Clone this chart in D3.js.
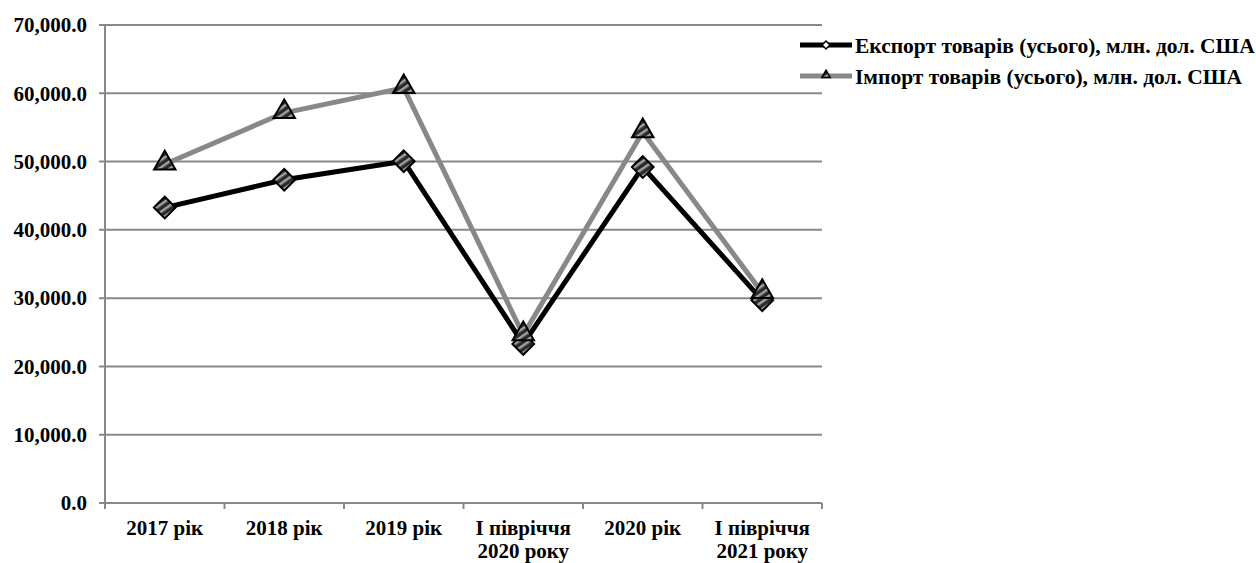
<!DOCTYPE html>
<html>
<head>
<meta charset="utf-8">
<script src="https://cdn.jsdelivr.net/npm/d3@7"></script>
<style>
body{margin:0;background:#fff}
text{font-family:"Liberation Serif","Times New Roman",serif;font-weight:bold;fill:#000}
</style>
</head>
<body>
<script>
// categories and series
var categories=["2017 рік","2018 рік","2019 рік","І півріччя|2020 року","2020 рік","І півріччя|2021 року"]
var exportVals=[43265,47335,50055,23300,49192,29700]
var importVals=[49607,57141,60800,24600,54336,30800]
var yTicks=[0,10000,20000,30000,40000,50000,60000,70000]
var seriesNames=["Експорт товарів (усього), млн. дол. США","Імпорт товарів (усього), млн. дол. США"]

var width=1256, height=563
var plotL=105, plotR=822, plotT=25, plotB=503

var svg=d3.select("body").append("svg")
  .attr("width",width).attr("height",height)

var defs=svg.append("defs")
var pat=defs.append("pattern").attr("id","hatch")
  .attr("patternUnits","userSpaceOnUse").attr("width",6).attr("height",6)
  .attr("patternTransform","rotate(-35)")
pat.append("rect").attr("width",6).attr("height",6).attr("fill","#2a2a2a")
pat.append("rect").attr("width",6).attr("height",2.5).attr("fill","#a0a0a0")

var x=d3.scaleBand().domain(categories).range([plotL,plotR])
var y=d3.scaleLinear().domain([0,70000]).range([plotB,plotT])

// gridlines
svg.append("g").selectAll("line").data(yTicks).enter().append("line")
  .attr("x1",plotL-6).attr("x2",plotR)
  .attr("y1",function(d){return y(d)}).attr("y2",function(d){return y(d)})
  .attr("stroke","#888").attr("stroke-width",2)

// y axis line
svg.append("line").attr("x1",plotL).attr("x2",plotL).attr("y1",plotT).attr("y2",plotB+6)
  .attr("stroke","#888").attr("stroke-width",2)

// x ticks
var xt=d3.range(categories.length+1).map(function(i){return plotL+i*x.bandwidth()})
svg.append("g").selectAll("line").data(xt).enter().append("line")
  .attr("x1",function(d){return d}).attr("x2",function(d){return d})
  .attr("y1",plotB).attr("y2",plotB+6)
  .attr("stroke","#888").attr("stroke-width",2)

// y labels
var fmt=d3.format(",.1f")
svg.append("g").selectAll("text").data(yTicks).enter().append("text")
  .attr("x",plotL-18).attr("y",function(d){return y(d)})
  .attr("dy","0.35em").attr("text-anchor","end").attr("font-size",21)
  .text(function(d){return fmt(d)})

// x labels
var xl=svg.append("g").selectAll("text").data(categories).enter().append("text")
  .attr("text-anchor","middle").attr("font-size",21)
  .attr("x",function(d){return x(d)+x.bandwidth()/2})
  .attr("y",535)
xl.each(function(d){
  var parts=d.split("|"), t=d3.select(this)
  parts.forEach(function(p,i){
    t.append("tspan").attr("x",x(d)+x.bandwidth()/2).attr("dy",i==0?0:23).text(p)
  })
})

var cx=function(i){return x(categories[i])+x.bandwidth()/2}
var line=d3.line().x(function(d,i){return cx(i)}).y(function(d){return y(d)})

var diamond=d3.symbol().type(d3.symbolDiamond2).size(300)
var triangle=d3.symbol().type(d3.symbolTriangle2).size(330)

svg.append("path").datum(importVals).attr("d",line)
  .attr("fill","none").attr("stroke","#888").attr("stroke-width",5)
svg.append("path").datum(exportVals).attr("d",line)
  .attr("fill","none").attr("stroke","#000").attr("stroke-width",5)

svg.append("g").selectAll("path").data(exportVals).enter().append("path")
  .attr("d",diamond)
  .attr("transform",function(d,i){return "translate("+cx(i)+","+y(d)+")"})
  .attr("fill","url(#hatch)").attr("stroke","#000").attr("stroke-width",2)

svg.append("g").selectAll("path").data(importVals).enter().append("path")
  .attr("d",triangle)
  .attr("transform",function(d,i){return "translate("+cx(i)+","+(y(d)-1)+")"})
  .attr("fill","url(#hatch)").attr("stroke","#000").attr("stroke-width",2)

// legend
var lg=svg.append("g")
var ly=[45,76]
lg.append("line").attr("x1",800).attr("x2",852).attr("y1",ly[0]).attr("y2",ly[0])
  .attr("stroke","#000").attr("stroke-width",5)
lg.append("line").attr("x1",800).attr("x2",852).attr("y1",ly[1]).attr("y2",ly[1])
  .attr("stroke","#888").attr("stroke-width",5)
lg.append("path").attr("d",d3.symbol().type(d3.symbolDiamond2).size(40))
  .attr("transform","translate(826,"+ly[0]+")")
  .attr("fill","#fff").attr("stroke","#000").attr("stroke-width",1.5)
lg.append("path").attr("d",d3.symbol().type(d3.symbolTriangle2).size(50))
  .attr("transform","translate(826,"+(ly[1]-1)+")")
  .attr("fill","url(#hatch)").attr("stroke","#000").attr("stroke-width",1.5)
lg.selectAll("text").data(seriesNames).enter().append("text")
  .attr("x",855).attr("y",function(d,i){return ly[i]}).attr("dy","0.35em")
  .attr("font-size",21.5).text(function(d){return d})
</script>
</body>
</html>
